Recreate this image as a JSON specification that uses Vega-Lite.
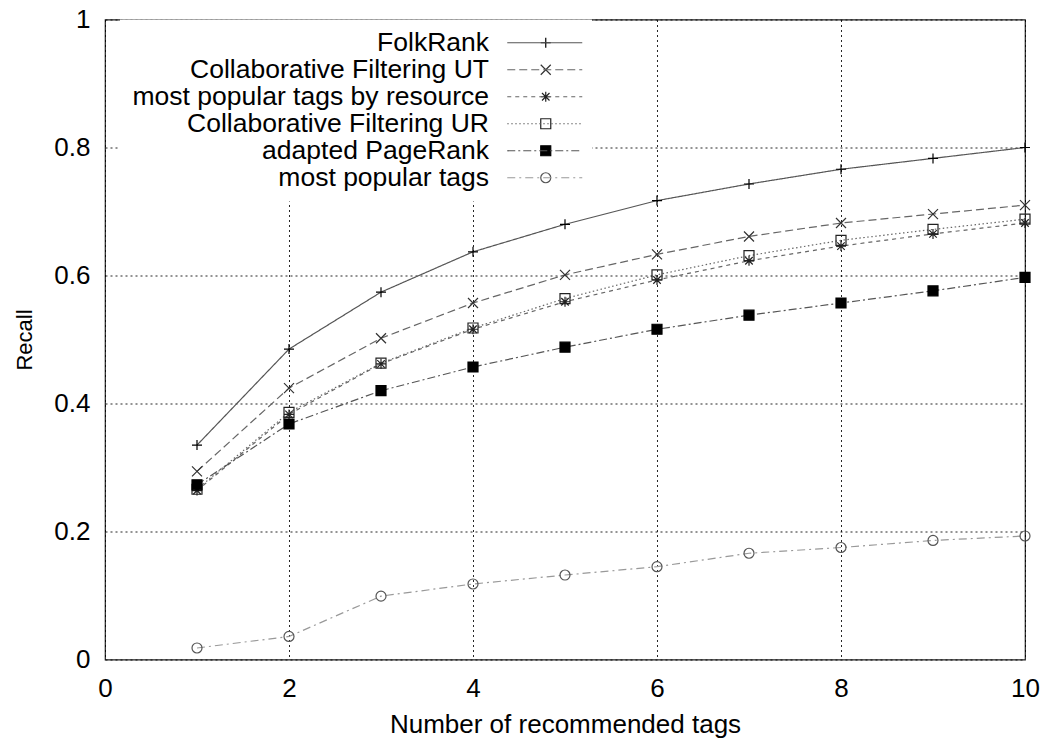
{
  "$schema": "https://vega.github.io/schema/vega-lite/v6.json",
  "width": 920,
  "height": 640,
  "autosize": {"type": "none"},
  "padding": {"left": 105, "top": 19.5, "right": 21, "bottom": 82.5},
  "background": "white",
  "data": {
    "values": [
      {"k": 1, "series": "FolkRank", "recall": 0.335},
      {"k": 2, "series": "FolkRank", "recall": 0.485},
      {"k": 3, "series": "FolkRank", "recall": 0.574},
      {"k": 4, "series": "FolkRank", "recall": 0.637},
      {"k": 5, "series": "FolkRank", "recall": 0.680},
      {"k": 6, "series": "FolkRank", "recall": 0.717},
      {"k": 7, "series": "FolkRank", "recall": 0.743},
      {"k": 8, "series": "FolkRank", "recall": 0.766},
      {"k": 9, "series": "FolkRank", "recall": 0.783},
      {"k": 10, "series": "FolkRank", "recall": 0.800},
      {"k": 1, "series": "Collaborative Filtering UT", "recall": 0.294},
      {"k": 2, "series": "Collaborative Filtering UT", "recall": 0.424},
      {"k": 3, "series": "Collaborative Filtering UT", "recall": 0.502},
      {"k": 4, "series": "Collaborative Filtering UT", "recall": 0.557},
      {"k": 5, "series": "Collaborative Filtering UT", "recall": 0.601},
      {"k": 6, "series": "Collaborative Filtering UT", "recall": 0.633},
      {"k": 7, "series": "Collaborative Filtering UT", "recall": 0.661},
      {"k": 8, "series": "Collaborative Filtering UT", "recall": 0.682},
      {"k": 9, "series": "Collaborative Filtering UT", "recall": 0.696},
      {"k": 10, "series": "Collaborative Filtering UT", "recall": 0.710},
      {"k": 1, "series": "most popular tags by resource", "recall": 0.264},
      {"k": 2, "series": "most popular tags by resource", "recall": 0.383},
      {"k": 3, "series": "most popular tags by resource", "recall": 0.462},
      {"k": 4, "series": "most popular tags by resource", "recall": 0.516},
      {"k": 5, "series": "most popular tags by resource", "recall": 0.559},
      {"k": 6, "series": "most popular tags by resource", "recall": 0.593},
      {"k": 7, "series": "most popular tags by resource", "recall": 0.623},
      {"k": 8, "series": "most popular tags by resource", "recall": 0.646},
      {"k": 9, "series": "most popular tags by resource", "recall": 0.665},
      {"k": 10, "series": "most popular tags by resource", "recall": 0.682},
      {"k": 1, "series": "Collaborative Filtering UR", "recall": 0.266},
      {"k": 2, "series": "Collaborative Filtering UR", "recall": 0.386},
      {"k": 3, "series": "Collaborative Filtering UR", "recall": 0.463},
      {"k": 4, "series": "Collaborative Filtering UR", "recall": 0.518},
      {"k": 5, "series": "Collaborative Filtering UR", "recall": 0.564},
      {"k": 6, "series": "Collaborative Filtering UR", "recall": 0.601},
      {"k": 7, "series": "Collaborative Filtering UR", "recall": 0.631},
      {"k": 8, "series": "Collaborative Filtering UR", "recall": 0.655},
      {"k": 9, "series": "Collaborative Filtering UR", "recall": 0.672},
      {"k": 10, "series": "Collaborative Filtering UR", "recall": 0.688},
      {"k": 1, "series": "adapted PageRank", "recall": 0.273},
      {"k": 2, "series": "adapted PageRank", "recall": 0.368},
      {"k": 3, "series": "adapted PageRank", "recall": 0.420},
      {"k": 4, "series": "adapted PageRank", "recall": 0.457},
      {"k": 5, "series": "adapted PageRank", "recall": 0.488},
      {"k": 6, "series": "adapted PageRank", "recall": 0.516},
      {"k": 7, "series": "adapted PageRank", "recall": 0.538},
      {"k": 8, "series": "adapted PageRank", "recall": 0.557},
      {"k": 9, "series": "adapted PageRank", "recall": 0.576},
      {"k": 10, "series": "adapted PageRank", "recall": 0.597},
      {"k": 1, "series": "most popular tags", "recall": 0.018},
      {"k": 2, "series": "most popular tags", "recall": 0.036},
      {"k": 3, "series": "most popular tags", "recall": 0.099},
      {"k": 4, "series": "most popular tags", "recall": 0.118},
      {"k": 5, "series": "most popular tags", "recall": 0.132},
      {"k": 6, "series": "most popular tags", "recall": 0.145},
      {"k": 7, "series": "most popular tags", "recall": 0.166},
      {"k": 8, "series": "most popular tags", "recall": 0.175},
      {"k": 9, "series": "most popular tags", "recall": 0.186},
      {"k": 10, "series": "most popular tags", "recall": 0.193}
    ]
  },
  "encoding": {
    "x": {
      "field": "k", "type": "quantitative",
      "scale": {"domain": [0, 10], "nice": false, "zero": false},
      "axis": {"values": [0, 2, 4, 6, 8, 10], "title": "Number of recommended tags", "labelFontSize": 26, "labelPadding": 16, "labelFlush": false, "titleFontSize": 26, "titlePadding": 10}
    },
    "y": {
      "field": "recall", "type": "quantitative",
      "scale": {"domain": [0, 1], "nice": false},
      "axis": {"values": [0, 0.2, 0.4, 0.6, 0.8, 1], "format": "~g", "title": "Recall", "labelFontSize": 26, "labelPadding": 15, "titleFontSize": 22, "titlePadding": 17}
    }
  },
  "layer": [
    {
      "mark": {"type": "line", "strokeWidth": 1.2},
      "encoding": {
        "color": {
          "field": "series", "type": "nominal",
          "scale": {
            "domain": ["FolkRank", "Collaborative Filtering UT", "most popular tags by resource", "Collaborative Filtering UR", "adapted PageRank", "most popular tags"],
            "range": ["#555555", "#666666", "#666666", "#666666", "#555555", "#999999"]
          },
          "legend": {
            "orient": "top-left", "offset": 0, "title": null, "padding": 10,
            "symbolType": "M-7.5,0H7.5", "symbolSize": 100, "symbolStrokeWidth": 1.2, "symbolOffset": 416.5,
            "labelAlign": "right", "labelOffset": -69, "labelFontSize": 26.5, "labelFont": "Liberation Sans",
            "labelColor": "black", "labelLimit": 600, "rowPadding": 0, "zindex": 2
          }
        },
        "strokeDash": {
          "field": "series", "type": "nominal",
          "scale": {
            "domain": ["FolkRank", "Collaborative Filtering UT", "most popular tags by resource", "Collaborative Filtering UR", "adapted PageRank", "most popular tags"],
            "range": [[1, 0], [8, 4], [4, 4], [1.5, 2.5], [8, 3, 2, 3], [8, 4, 2, 4]]
          },
          "legend": {
            "orient": "top-left", "offset": 0, "title": null, "padding": 10,
            "symbolType": "M-7.5,0H7.5", "symbolSize": 100, "symbolStrokeWidth": 1.2, "symbolOffset": 416.5,
            "labelAlign": "right", "labelOffset": -69, "labelFontSize": 26.5, "labelFont": "Liberation Sans",
            "labelColor": "black", "labelLimit": 600, "rowPadding": 0, "zindex": 2
          }
        }
      }
    },
    {
      "mark": {"type": "point", "size": 100, "strokeWidth": 1.2, "opacity": 1},
      "encoding": {
        "shape": {
          "field": "series", "type": "nominal",
          "scale": {
            "domain": ["most popular tags", "adapted PageRank", "Collaborative Filtering UR", "most popular tags by resource", "Collaborative Filtering UT", "FolkRank"],
            "range": ["circle", "square", "square", "M-1,0H1M0,-1V1M-0.75,-0.75L0.75,0.75M0.75,-0.75L-0.75,0.75", "M-1,-1L1,1M1,-1L-1,1", "M-1,0H1M0,-1V1"]
          },
          "legend": {
            "values": ["FolkRank", "Collaborative Filtering UT", "most popular tags by resource", "Collaborative Filtering UR", "adapted PageRank", "most popular tags"],
            "orient": "none", "legendX": 15, "legendY": 0, "title": null, "padding": 10, "fillColor": "white",
            "symbolSize": 100, "symbolStrokeWidth": 1.2, "symbolOffset": 402.5,
            "labelOffset": -3.5, "labelLimit": 33, "labelOpacity": 0, "labelFontSize": 26.5, "labelFont": "Liberation Sans",
            "rowPadding": 0, "zindex": 1
          }
        },
        "fill": {
          "field": "series", "type": "nominal",
          "scale": {
            "domain": ["most popular tags", "adapted PageRank", "Collaborative Filtering UR", "most popular tags by resource", "Collaborative Filtering UT", "FolkRank"],
            "range": ["transparent", "black", "transparent", "transparent", "transparent", "transparent"]
          },
          "legend": {
            "values": ["FolkRank", "Collaborative Filtering UT", "most popular tags by resource", "Collaborative Filtering UR", "adapted PageRank", "most popular tags"],
            "orient": "none", "legendX": 15, "legendY": 0, "title": null, "padding": 10, "fillColor": "white",
            "symbolSize": 100, "symbolStrokeWidth": 1.2, "symbolOffset": 402.5,
            "labelOffset": -3.5, "labelLimit": 33, "labelOpacity": 0, "labelFontSize": 26.5, "labelFont": "Liberation Sans",
            "rowPadding": 0, "zindex": 1
          }
        },
        "stroke": {
          "field": "series", "type": "nominal",
          "scale": {
            "domain": ["most popular tags", "adapted PageRank", "Collaborative Filtering UR", "most popular tags by resource", "Collaborative Filtering UT", "FolkRank"],
            "range": ["#555555", "black", "#222222", "#222222", "#333333", "black"]
          },
          "legend": {
            "values": ["FolkRank", "Collaborative Filtering UT", "most popular tags by resource", "Collaborative Filtering UR", "adapted PageRank", "most popular tags"],
            "orient": "none", "legendX": 15, "legendY": 0, "title": null, "padding": 10, "fillColor": "white",
            "symbolSize": 100, "symbolStrokeWidth": 1.2, "symbolOffset": 402.5,
            "labelOffset": -3.5, "labelLimit": 33, "labelOpacity": 0, "labelFontSize": 26.5, "labelFont": "Liberation Sans",
            "rowPadding": 0, "zindex": 1
          }
        }
      }
    }
  ],
  "config": {
    "font": "Liberation Sans",
    "view": {"stroke": "#222222", "strokeWidth": 1.2},
    "axis": {
      "labelFont": "Liberation Sans", "titleFont": "Liberation Sans", "labelColor": "black", "titleColor": "black",
      "titleFontWeight": "normal", "grid": true, "gridColor": "black", "gridDash": [2, 3], "gridWidth": 1,
      "gridOpacity": 0.85, "domain": false, "ticks": false
    }
  }
}
